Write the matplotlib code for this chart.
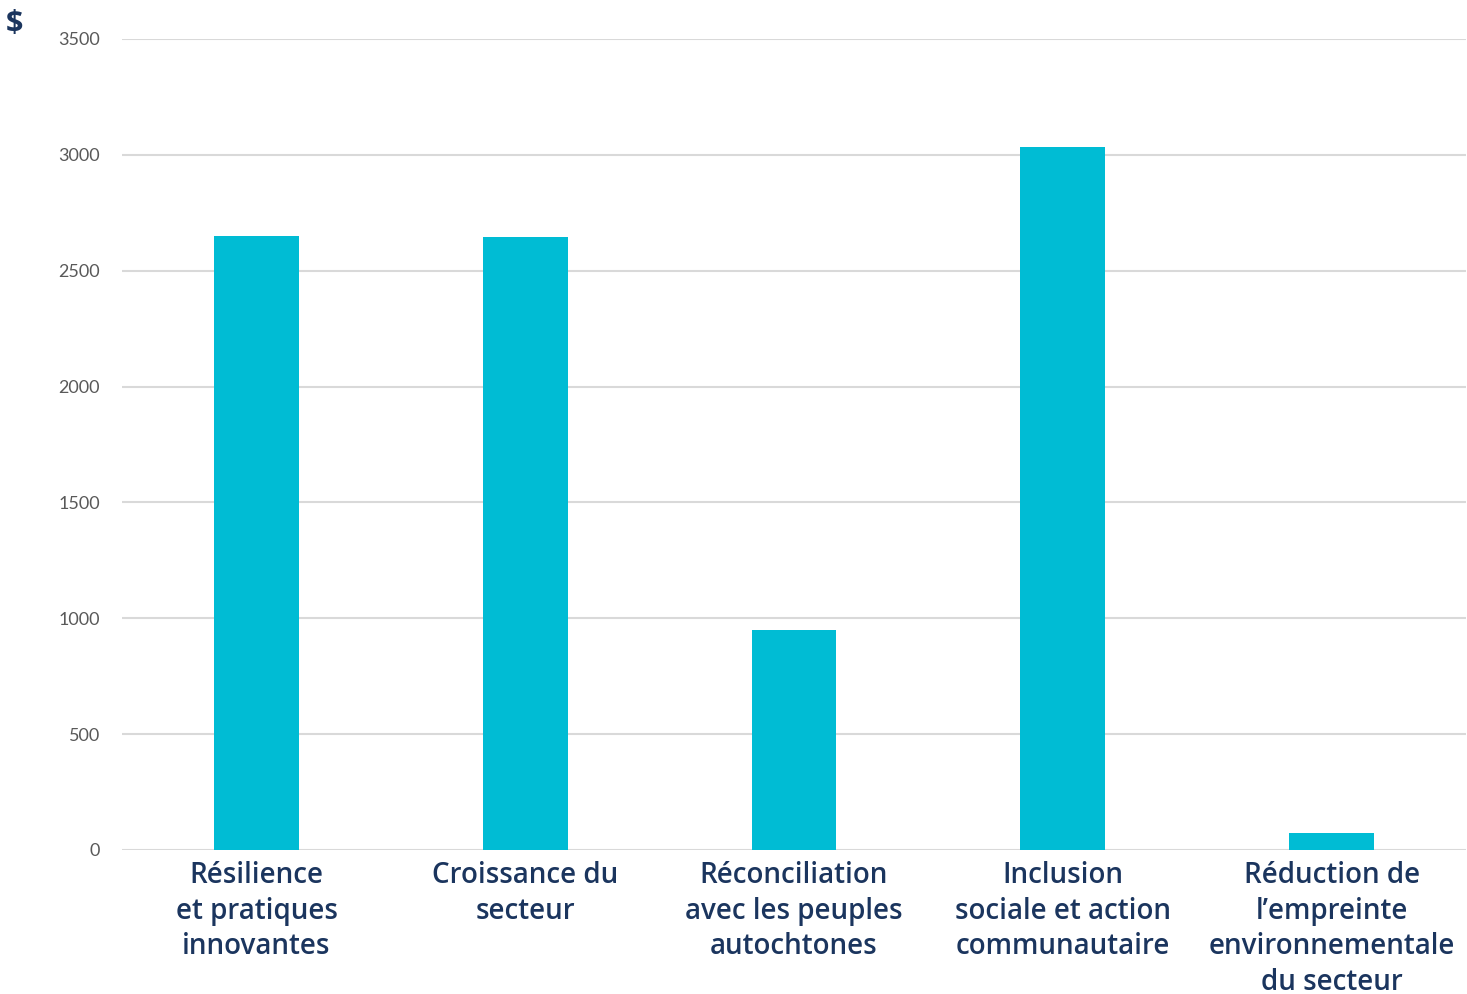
import matplotlib
matplotlib.use("Agg")
import matplotlib.pyplot as plt

categories = [
    "Résilience\net pratiques\ninnovantes",
    "Croissance du\nsecteur",
    "Réconciliation\navec les peuples\nautochtones",
    "Inclusion\nsociale et action\ncommunautaire",
    "Réduction de\nl’empreinte\nenvironnementale\ndu secteur",
]
values = [2650, 2645, 950, 3035, 73]
yticks = [0, 500, 1000, 1500, 2000, 2500, 3000, 3500]

navy = "#1b355e"
bar_color = "#00bcd4"

fig = plt.figure(figsize=(14.67, 9.94), dpi=100)
ax = fig.add_axes([0.0832, 0.1449, 0.9161, 0.8159])

x = list(range(len(categories)))
ax.bar(x, values, width=0.316, color=bar_color, zorder=3)

ax.set_xlim(-0.5, len(categories) - 0.5)
ax.set_ylim(0, 3500)
ax.set_yticks(yticks)
ax.set_yticklabels([str(v) for v in yticks], fontsize=13, color="#595959", family="Lato")
ax.set_xticks(x)
ax.set_xticklabels(categories, fontsize=20, color=navy, family="Open Sans",
                   fontweight="semibold", linespacing=1.3, va="top")
ax.tick_params(axis="x", length=0, pad=8)
ax.tick_params(axis="y", length=0, pad=16)

ax.yaxis.grid(True, color="#d9d9d9", lw=1.5, zorder=0)
for s in ax.spines.values():
    s.set_visible(False)

fig.text(0.004, 0.968, "$", fontsize=22, fontweight="bold", color=navy, family="Open Sans")

fig.savefig("out.png", dpi=100)
